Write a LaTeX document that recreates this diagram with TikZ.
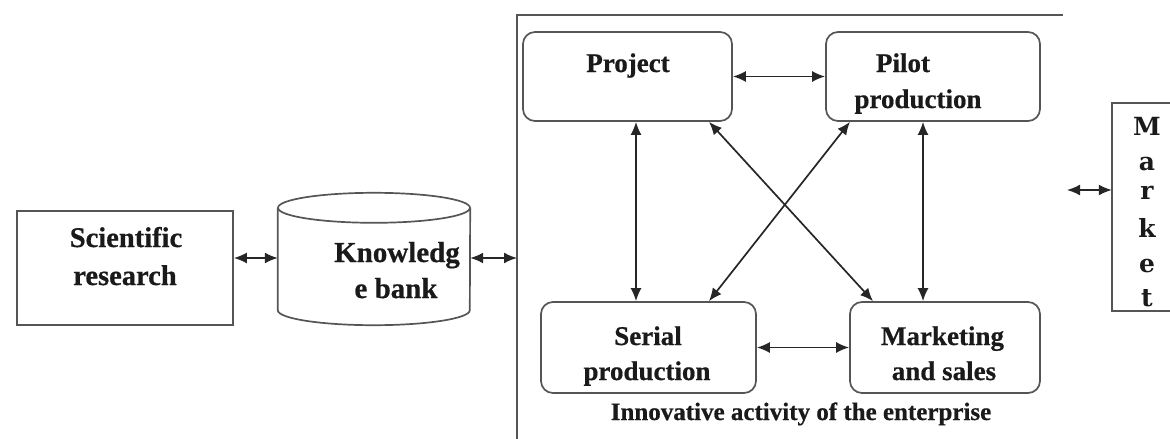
\documentclass[tikz,border=0pt]{standalone}
\usepackage{fontspec}
\setmainfont{Liberation Serif}[BoldFeatures={FakeBold=0.6}]
\newfontfamily\mktfont{DejaVu Serif}
\usetikzlibrary{arrows.meta}
\definecolor{linegray}{HTML}{555555}
\definecolor{arrc}{HTML}{262626}
\definecolor{textc}{HTML}{1A1A1A}
\tikzset{
  ln/.style={draw=linegray, line width=1.7pt},
  box/.style={ln, rounded corners=12pt, inner sep=0pt},
  sqbox/.style={ln, inner sep=0pt},
  ghost/.style={draw=none, inner sep=0pt},
  txt/.style={anchor=base, inner sep=0pt, text=textc, font=\bfseries\fontsize{27}{36}\selectfont},
  txtbig/.style={txt, font=\bfseries\fontsize{28.5}{36}\selectfont},
  captxt/.style={txt, font=\bfseries\fontsize{25}{30}\selectfont},
  mkttxt/.style={anchor=base, inner sep=0pt, text=textc, font=\mktfont\bfseries\fontsize{25}{28}\selectfont},
  tip/.style={Latex[length=13pt,width=11pt]},
  arr/.style={draw=arrc, line width=1.7pt, {Latex[length=13pt,width=11pt]}-{Latex[length=13pt,width=11pt]}}
}
\begin{document}
\begin{tikzpicture}[x=1pt,y=-1pt]
\useasboundingbox (0,0) rectangle (1170,439);
% helper coordinates
\coordinate (ay) at (0,258);
\coordinate (frL) at (517,258);
\coordinate (frTL) at (517,15);
\coordinate (frTR) at (1063,15);
\coordinate (frB) at (517,439);
\coordinate (vL) at (636,0);
\coordinate (vR) at (923,0);
\coordinate (dA) at (709,0);
\coordinate (dB) at (873,0);
\coordinate (dC) at (850,0);
\coordinate (mk0) at (1067,190);

% left part
\node[sqbox, minimum width=216pt, minimum height=114pt] (sci) at (125,268) {};
\node[txtbig] (sciT1) at (126,247) {Scientific};
\node[txtbig] (sciT2) at (125,285) {research};

\node[ghost, minimum width=192pt, minimum height=133pt] (kb) at (374,258.5) {};
\draw[ln] ([yshift=-16pt]kb.north west) -- ([yshift=15pt]kb.south west)
  arc[start angle=180, end angle=360, x radius=96pt, y radius=15pt]
  -- ([yshift=-16pt]kb.north east);
\draw[ln] ([yshift=-16pt]kb.north) ellipse[x radius=96pt, y radius=15pt];
\node[txtbig, font=\bfseries\fontsize{29}{36}\selectfont] (kbT1) at (397,262) {Knowledg};
\node[txtbig, font=\bfseries\fontsize{29}{36}\selectfont] (kbT2) at (396,298) {e bank};

% enterprise frame
\draw[ln, line width=1.9pt] (frB) -- (frTL) -- (frTR);

% boxes
\node[box, minimum width=209pt, minimum height=89pt] (proj) at (627.5,76.5) {};
\node[box, minimum width=214pt, minimum height=89pt] (pilot) at (933,76.5) {};
\node[box, minimum width=215pt, minimum height=91pt] (serial) at (648.5,347.5) {};
\node[box, minimum width=190pt, minimum height=91pt] (mkt) at (945,347.5) {};

\node[txt] (projT) at (628,72) {Project};
\node[txt] (pilotT1) at (903,72) {Pilot};
\node[txt] (pilotT2) at (918,108) {production};
\node[txt] (serT1) at (648,345) {Serial};
\node[txt] (serT2) at (647,380) {production};
\node[txt] (mktT1) at (942.5,345) {Marketing};
\node[txt] (mktT2) at (944,380) {and sales};
\node[captxt] (cap) at (801,420) {Innovative activity of the enterprise};

% market
\node[ghost, minimum width=58pt, minimum height=208pt] (market) at (1141,207) {};
\draw[ln] (market.north east) -- (market.north west) -- (market.south west) -- (market.south east);
\node[mkttxt] (m1) at (1147,135) {M};
\node[mkttxt] (m2) at (1147,170) {a};
\node[mkttxt] (m3) at (1147,199) {r};
\node[mkttxt] (m4) at (1147,237) {k};
\node[mkttxt] (m5) at (1147,272) {e};
\node[mkttxt] (m6) at (1147,306) {t};

% connectors
\draw[arr] (sci.east |- ay) -- (kb.west |- ay);
\draw[arr] (kb.east |- ay) -- (frL);
\draw[arr] (proj.east) -- (pilot.west);
\draw[arr] (serial.east) -- (mkt.west);
\draw[arr] (proj.south -| vL) -- (serial.north -| vL);
\draw[arr] (pilot.south -| vR) -- (mkt.north -| vR);
\draw[arr] (proj.south -| dA) -- (mkt.north -| dB);
\draw[arr] (pilot.south -| dC) -- (serial.north -| dA);
\draw[arr] (mk0) -- (market.west |- mk0);
\end{tikzpicture}
\end{document}
